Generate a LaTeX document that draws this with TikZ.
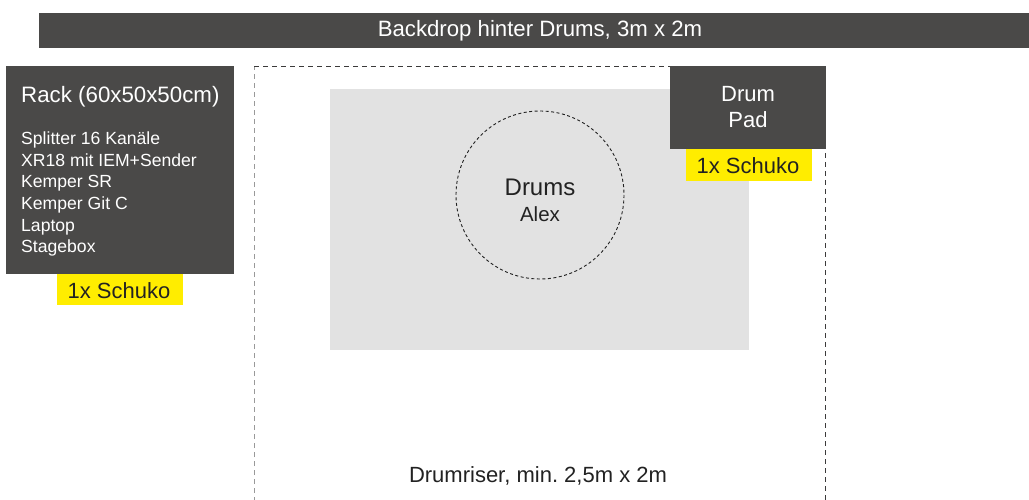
\documentclass[tikz,border=0pt]{standalone}
\usepackage{fontspec}
\setmainfont{Liberation Sans}
\frenchspacing
\definecolor{darkbox}{HTML}{4A4948}
\definecolor{schuko}{HTML}{FFED00}
\definecolor{riser}{HTML}{E2E2E2}
\definecolor{ink}{HTML}{222222}
\begin{document}
\begin{tikzpicture}[x=1pt,y=-1pt,
  darkfill/.style={fill=darkbox,draw=none},
  yellowfill/.style={fill=schuko,draw=none},
  wtext/.style={text=white,inner sep=0pt,anchor=base},
  ktext/.style={text=ink,inner sep=0pt,anchor=base},
  dashline/.style={dash pattern=on 5pt off 4pt,line width=1pt}]
\useasboundingbox (0,0) rectangle (1029,500);
% backdrop
\fill[darkfill] (39,13) rectangle (1029,48);
\node[wtext,font=\fontsize{22.2}{22.2}\selectfont] (backdrop) at (540,37) {Backdrop hinter Drums, 3m x 2m};
% riser dashed outline
\draw[dashline,draw=gray!80] (254,502) -- (254,67);
\draw[dashline,draw=darkbox!80!black] (254,67) -- (825,67) -- (825,502);
% riser inner area
\fill[riser] (330,89) rectangle (749,350);
\draw[dash pattern=on 3pt off 2.5pt,line width=0.9pt,draw=ink] (540,195) circle (84);
\node[ktext,font=\fontsize{24}{24}\selectfont] (drums) at (540,196) {Drums};
\node[ktext,font=\fontsize{20.5}{20.5}\selectfont] (alex) at (540,222) {Alex};
\node[ktext,font=\fontsize{22}{22}\selectfont] (riserlbl) at (538,482) {Drumriser, min. 2,5m x 2m};
% rack
\fill[darkfill] (6,66) rectangle (234,274);
\node[wtext,anchor=base west,font=\fontsize{22.3}{22.3}\selectfont] (racktitle) at (21,103) {Rack (60x50x50cm)};
\node[wtext,anchor=base west,font=\fontsize{17.6}{17.6}\selectfont] (r1) at (21,145) {Splitter 16 Kanäle};
\node[wtext,anchor=base west,font=\fontsize{17.6}{17.6}\selectfont] (r2) at (21,166.5) {XR18 mit IEM+Sender};
\node[wtext,anchor=base west,font=\fontsize{17.6}{17.6}\selectfont] (r3) at (21,188) {Kemper SR};
\node[wtext,anchor=base west,font=\fontsize{17.6}{17.6}\selectfont] (r4) at (21,209.5) {Kemper Git C};
\node[wtext,anchor=base west,font=\fontsize{17.6}{17.6}\selectfont] (r5) at (21,231) {Laptop};
\node[wtext,anchor=base west,font=\fontsize{17.6}{17.6}\selectfont] (r6) at (21,252.5) {Stagebox};
\fill[yellowfill] (57,274) rectangle (183,305);
\node[ktext,font=\fontsize{22}{22}\selectfont] (rackschuko) at (119,298) {1x Schuko};
% drum pad
\fill[darkfill] (670,66) rectangle (826,149);
\node[wtext,font=\fontsize{22}{22}\selectfont] (drum) at (748,102) {Drum};
\node[wtext,font=\fontsize{22}{22}\selectfont] (pad) at (748,128) {Pad};
\fill[yellowfill] (686,149) rectangle (812,181);
\node[ktext,font=\fontsize{22}{22}\selectfont] (padschuko) at (748,174) {1x Schuko};
\end{tikzpicture}
\end{document}
